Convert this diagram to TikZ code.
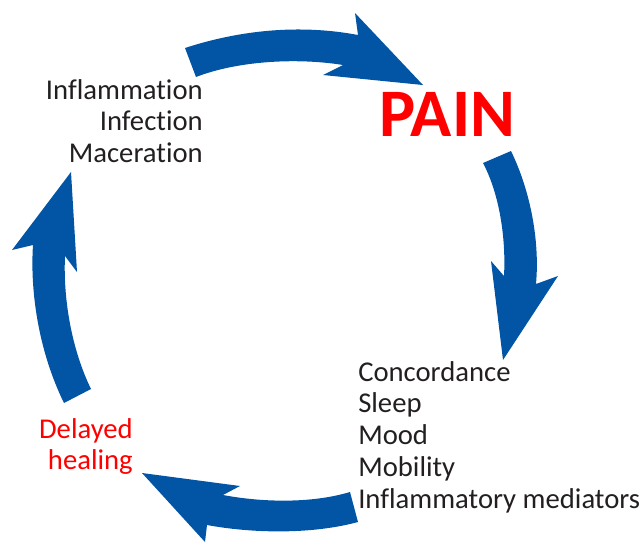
\documentclass[tikz,border=0pt]{standalone}
\usepackage{xcolor}
\usepackage{fontspec}
\setmainfont{Carlito}[Ligatures={NoCommon}]
\usepackage{tikz}
\usetikzlibrary{positioning}
\definecolor{cycblue}{RGB}{2,84,165}
\definecolor{painred}{RGB}{255,0,0}
\definecolor{txtdark}{RGB}{35,31,32}
\tikzset{
  cyclearrow/.style={fill=cycblue, draw=none},
  factors/.style={inner sep=0pt, text=txtdark,
    font=\fontsize{21.5}{23.8}\selectfont},
  redfactors/.style={factors, text=painred},
  painlabel/.style={inner sep=0pt, text=painred,
    font=\fontsize{51}{55}\selectfont\bfseries}
}
\begin{document}
\begin{tikzpicture}[x=0.75pt, y=-0.75pt]
  \useasboundingbox (0,0) rectangle (640,544);

  % Top arrow
  \fill[cyclearrow] (185,48) .. controls (240,30) and (300,24) .. (358,35)
    -- (355,13) -- (423,85) -- (323,75) -- (343,65)
    .. controls (300,58) and (240,60) .. (196,77) -- cycle;

  % Right arrow
  \fill[cyclearrow] (511,151) .. controls (530,190) and (540,240) .. (536,284)
    -- (558,276) -- (503,360) -- (491,261) -- (504,276)
    .. controls (506,240) and (500,195) .. (483,163) -- cycle;

  % Bottom arrow
  \fill[cyclearrow] (350,492) .. controls (310,504) and (260,502) .. (223,495)
    -- (240,486) -- (142,473) -- (205,542) -- (207,525)
    .. controls (250,533) and (310,535) .. (358,522) -- cycle;

  % Left arrow
  \fill[cyclearrow] (91,389) .. controls (72,350) and (63,300) .. (65,256)
    -- (77,272) -- (71,172) -- (12,250) -- (33,245)
    .. controls (30,290) and (38,350) .. (64,403) -- cycle;

  % Labels
  \node[painlabel, anchor=north west] (pain) at (379,92) {PAIN};
  \node[factors, anchor=north east, align=right] (local) at (203,79)
    {Inflammation\\Infection\\Maceration};
  \node[factors, anchor=north west, align=left] (systemic) at (358,361)
    {Concordance\\Sleep\\Mood\\Mobility\\Inflammatory mediators};
  \node[redfactors, anchor=north east, align=right] (healing) at (133,418)
    {Delayed\\healing};
\end{tikzpicture}
\end{document}
